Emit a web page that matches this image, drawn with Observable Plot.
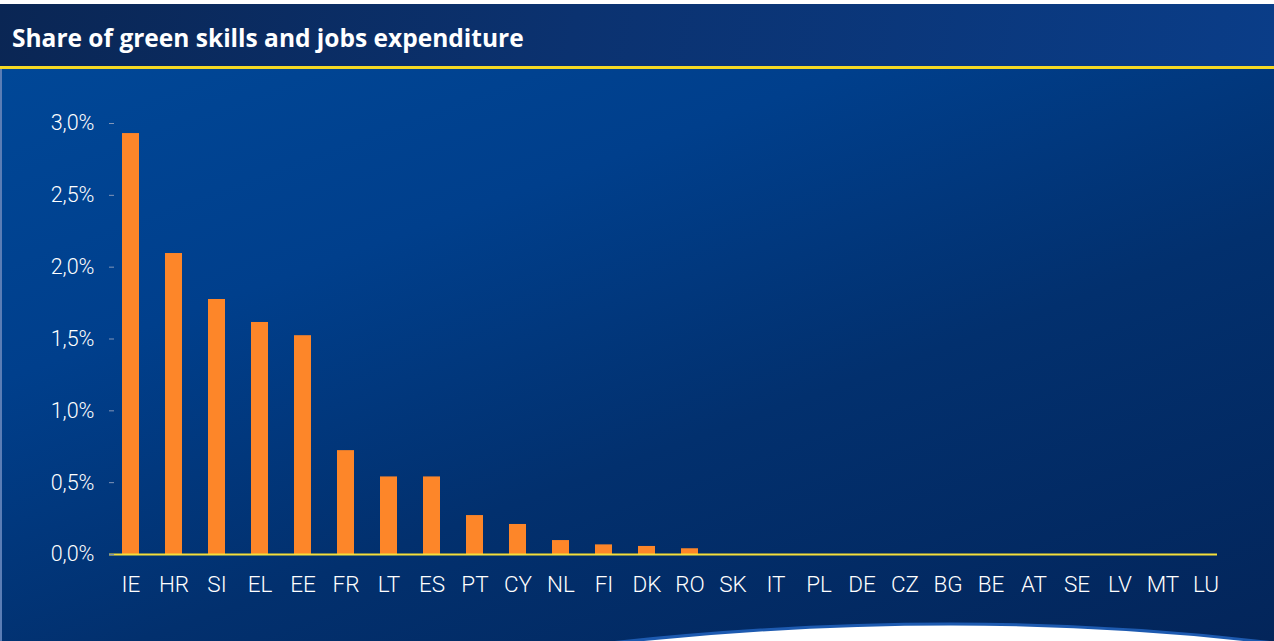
<!DOCTYPE html>
<html>
<head>
<meta charset="utf-8">
<script src="https://cdn.jsdelivr.net/npm/d3@7"></script>
<script src="https://cdn.jsdelivr.net/npm/@observablehq/plot@0.6"></script>
<style>
  html, body { margin: 0; padding: 0; background: #ffffff; }
  #wrap { position: relative; width: 1274px; height: 641px; overflow: hidden; background: #ffffff; }
  #header { position: absolute; left: 0; top: 4px; width: 1274px; height: 62px;
    background: linear-gradient(100deg, #0a2654 0%, #0b3270 45%, #0a3d88 100%); }
  #title { position: absolute; left: 12px; top: 22px; margin: 0; color: #ffffff;
    font-family: "Open Sans", sans-serif; font-weight: 700; font-size: 24.5px; letter-spacing: 0px; line-height: 1; }
  #yellow { position: absolute; left: 0; top: 66px; width: 1274px; height: 3px; background: #f5d924; }
  #panel { position: absolute; left: 0; top: 69px; width: 1274px; height: 572px;
    background: linear-gradient(160deg, #004797 0%, #003f8c 30%, #02306e 60%, #03255a 100%);
    border-left: 2px solid #5b7db5; box-sizing: border-box; }
  #chart { position: absolute; left: 0; top: 70px; }
  #wave { position: absolute; left: 0; top: 0; pointer-events: none; }
</style>
</head>
<body>
<div id="wrap">
  <div id="header"><h1 id="title">Share of green skills and jobs expenditure</h1></div>
  <div id="yellow"></div>
  <div id="panel"></div>
  <div id="chart"></div>
  <svg id="wave" width="1274" height="641"><path d="M610,643 Q960,605 1274,643 Z" fill="#ffffff" stroke="#1d5ab0" stroke-width="3"/></svg>
</div>
<script>
const countries = ["IE","HR","SI","EL","EE","FR","LT","ES","PT","CY","NL","FI","DK","RO","SK","IT","PL","DE","CZ","BG","BE","AT","SE","LV","MT","LU"];
const shares = [2.93, 2.095, 1.775, 1.615, 1.523, 0.723, 0.54, 0.54, 0.271, 0.209, 0.097, 0.067, 0.056, 0.04, 0, 0, 0, 0, 0, 0, 0, 0, 0, 0, 0, 0];
const yTicks = [0, 0.5, 1.0, 1.5, 2.0, 2.5, 3.0];
const yTickLabels = ["0,0%","0,5%","1,0%","1,5%","2,0%","2,5%","3,0%"];

const data = countries.map((c, i) => ({country: c, share: shares[i]}));

const chart = Plot.plot({
  width: 1274,
  height: 571,
  marginLeft: 109,
  marginRight: 57,
  marginTop: 53,
  marginBottom: 87,
  style: {background: "transparent", color: "#ffffff", fontFamily: "Roboto, sans-serif"},
  x: {domain: countries, range: [113.1, 1223.5], paddingInner: 0.6, paddingOuter: 0.2, label: null},
  y: {domain: [0, 3], label: null},
  marks: [
    Plot.barY(data, {x: "country", y: "share", fill: "#fd8629"}),
    Plot.ruleY([0], {stroke: "#f5df3a", strokeWidth: 2}),
    Plot.axisY({ticks: yTicks, tickFormat: (d) => yTickLabels[yTicks.indexOf(d)], tickSize: 5, dx: 5, tickPadding: 15,
      fontSize: 21.5, fontWeight: 300, stroke: "#8296b8", fill: "#ffffff", label: null}),
    Plot.axisX({tickSize: 0, tickPadding: 22, fontSize: 22.5, fontWeight: 300, fill: "#ffffff", label: null})
  ]
});
document.getElementById("chart").appendChild(chart);
</script>
</body>
</html>
